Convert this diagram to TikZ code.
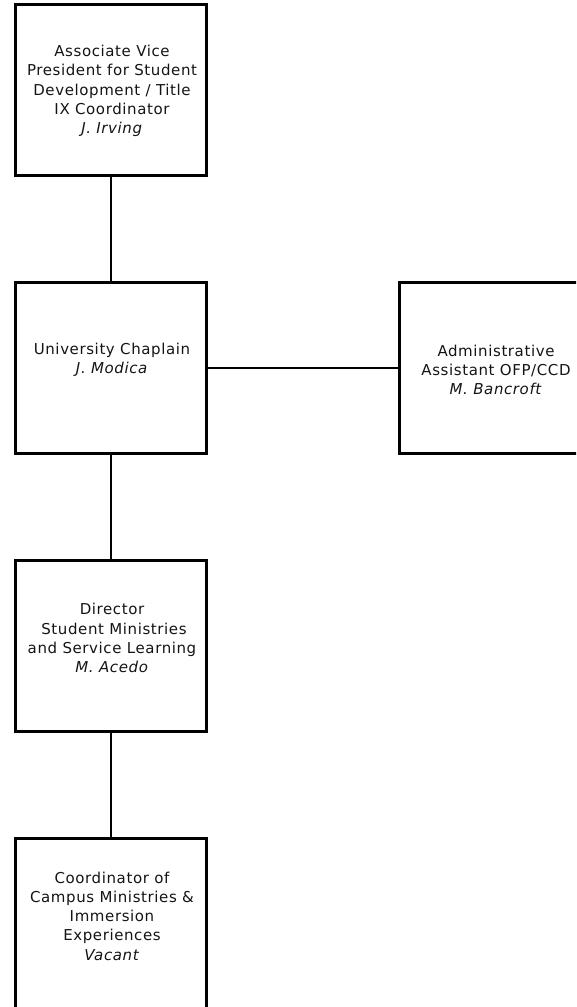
\documentclass[tikz,border=0pt]{standalone}
\usepackage{fontspec}
\setmainfont{DejaVu Sans}[LetterSpace=4]
\begin{document}
\begin{tikzpicture}[x=1pt,y=-1pt,
  box/.style={draw=black, line width=3pt, minimum width=191pt, minimum height=171pt, inner sep=0pt, outer sep=0pt},
  conn/.style={draw=black, line width=2pt},
  txt/.style={align=center, font=\fontsize{15}{19.2}\selectfont, text=black!92, inner sep=0pt}]
\clip (0,0) rectangle (576,1007);
\useasboundingbox (0,0) rectangle (576,1007);
% boxes
\node[box, minimum height=170.5pt] (avp) at (111,89.75) {};
\node[box] (chap) at (111,368) {};
\node[box] (admin) at (495.3,368) {};
\node[box] (dir) at (111,646) {};
\node[box] (coord) at (111,924.2) {};
% connectors
\draw[conn] (avp.south) -- (chap.north);
\draw[conn] (chap.east) -- (admin.west);
\draw[conn] (chap.south) -- (dir.north);
\draw[conn] (dir.south) -- (coord.north);
% texts
\node[txt] (avpt) at (112,91) {Associate Vice\\President for Student\\Development / Title\\IX Coordinator\\\textit{J. Irving}};
\node[txt] (chapt) at (112,360) {University Chaplain\\\textit{J. Modica}};
\node[txt] (admint) at (496,370) {Administrative\\Assistant OFP/CCD\\\textit{M. Bancroft}};
\node[txt] (dirt) at (112,638) {Director\\\hspace*{4pt}Student Ministries\\and Service Learning\\\textit{M. Acedo}};
\node[txt] (coordt) at (112,916) {Coordinator of\\Campus Ministries \&\\Immersion\\Experiences\\\textit{Vacant}};
\end{tikzpicture}
\end{document}
